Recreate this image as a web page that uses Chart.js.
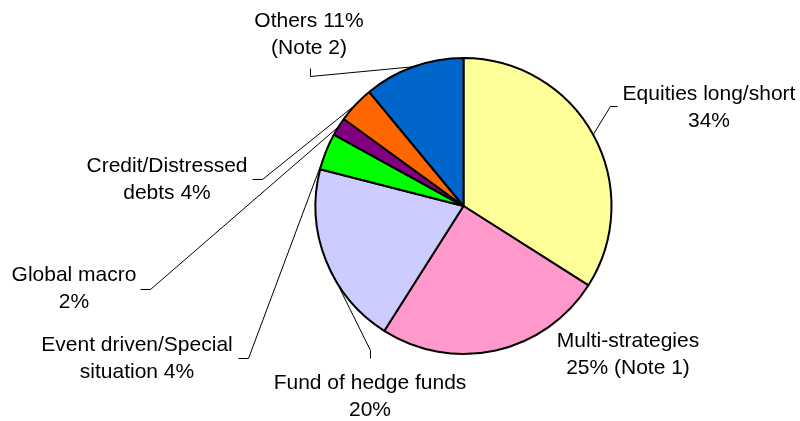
<!DOCTYPE html>
<html>
<head>
<meta charset="utf-8">
<script src="https://cdn.jsdelivr.net/npm/chart.js@4/dist/chart.umd.min.js"></script>
<style>
  html, body { margin: 0; padding: 0; background: #ffffff; }
  #wrap { width: 800px; height: 421px; position: relative; }
</style>
</head>
<body>
<div id="wrap"><canvas id="pie"></canvas></div>
<script>
// Hedge fund strategy allocation (% of total)
const categories = [
  'Equities long/short',
  'Multi-strategies',
  'Fund of hedge funds',
  'Event driven/Special situation',
  'Global macro',
  'Credit/Distressed debts',
  'Others'
];
const shares = [34, 25, 20, 4, 2, 4, 11];

// Two-line label text per slice; {v} is replaced by the slice value
const labelTemplates = [
  ['Equities long/short', '{v}%'],
  ['Multi-strategies', '{v}% (Note 1)'],
  ['Fund of hedge funds', '{v}%'],
  ['Event driven/Special', 'situation {v}%'],
  ['Global macro', '{v}%'],
  ['Credit/Distressed', 'debts {v}%'],
  ['Others {v}%', '(Note 2)']
];

const sliceColors = ['#FFFF99', '#FF99CC', '#CCCCFF', '#00FF00', '#800080', '#FF6600', '#0066CC'];

// Label placement: centre x, first baseline y, and the leader's two fixed points
const labelPlacement = [
  { x: 709, y: 100, lead: [[617, 106], [610, 106]] },
  { x: 628, y: 347, lead: null },
  { x: 370, y: 389, lead: [[370, 358], [370, 350]] },
  { x: 137, y: 351, lead: [[238, 358], [248, 358]] },
  { x: 74,  y: 281, lead: [[140, 289], [150, 289]] },
  { x: 167, y: 172, lead: [[252, 179], [262, 179]] },
  { x: 309, y: 27,  lead: [[310, 68], [310, 76]] }
];

const LINE_GAP = 27;
const FONT = '21px "Liberation Sans", Arial, sans-serif';

const sliceLabels = {
  id: 'sliceLabels',
  afterDatasetsDraw(chart) {
    const ctx = chart.ctx;
    const arcs = chart.getDatasetMeta(0).data;
    ctx.save();
    // leader lines from each label to the middle of its slice edge
    ctx.strokeStyle = '#000000';
    ctx.lineWidth = 1;
    arcs.forEach((arc, i) => {
      const p = labelPlacement[i];
      if (!p.lead) return;
      const { x, y, startAngle, endAngle, outerRadius } = arc.getProps(['x', 'y', 'startAngle', 'endAngle', 'outerRadius'], true);
      const mid = (startAngle + endAngle) / 2;
      const ex = x + Math.cos(mid) * outerRadius;
      const ey = y + Math.sin(mid) * outerRadius;
      ctx.beginPath();
      ctx.moveTo(p.lead[0][0] + 0.5, p.lead[0][1] + 0.5);
      ctx.lineTo(p.lead[1][0] + 0.5, p.lead[1][1] + 0.5);
      ctx.lineTo(ex, ey);
      ctx.stroke();
    });
    // label text
    ctx.fillStyle = '#000000';
    ctx.font = FONT;
    ctx.textAlign = 'center';
    ctx.textBaseline = 'alphabetic';
    labelTemplates.forEach((lines, i) => {
      const p = labelPlacement[i];
      lines.forEach((t, k) => {
        ctx.fillText(t.replace('{v}', shares[i]), p.x, p.y + k * LINE_GAP);
      });
    });
    ctx.restore();
  }
};

new Chart(document.getElementById('pie'), {
  type: 'pie',
  data: {
    labels: categories,
    datasets: [{
      data: shares,
      backgroundColor: sliceColors,
      borderColor: '#000000',
      borderWidth: 2
    }]
  },
  options: {
    responsive: true,
    maintainAspectRatio: false,
    animation: false,
    layout: { padding: { top: 57, bottom: 66, left: 200, right: 73 } },
    plugins: {
      legend: { display: false },
      tooltip: { enabled: false }
    }
  },
  plugins: [sliceLabels]
});
</script>
</body>
</html>
